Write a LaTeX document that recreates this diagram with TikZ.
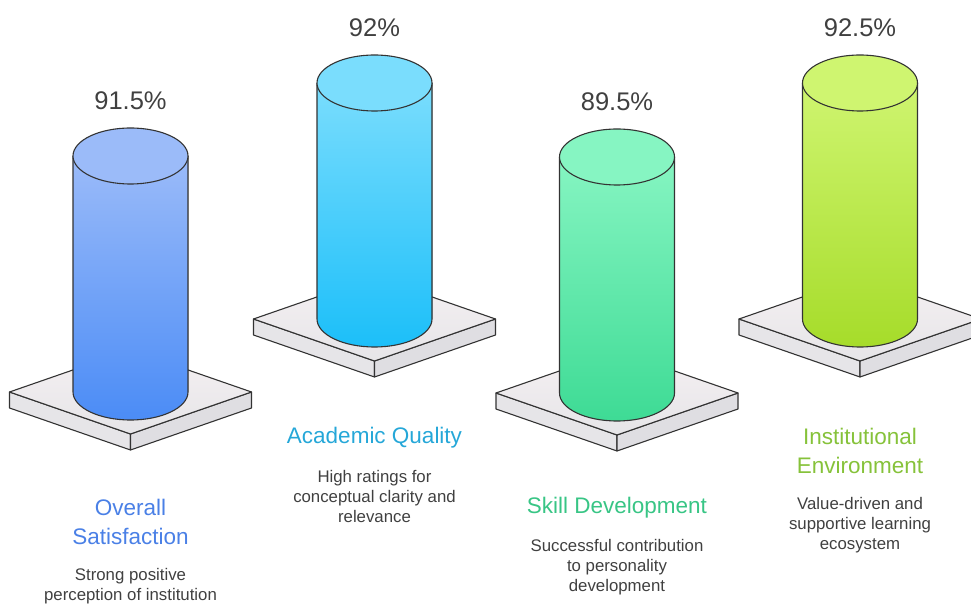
\documentclass[tikz,border=0pt]{standalone}
\usepackage{fontspec}
\setmainfont{Liberation Sans}

\definecolor{blueTop}{HTML}{9BBBF9}
\definecolor{blueBot}{HTML}{4B8CF6}
\definecolor{cyanTop}{HTML}{7ADDFD}
\definecolor{cyanBot}{HTML}{1CBFF9}
\definecolor{greenTop}{HTML}{86F5C2}
\definecolor{greenBot}{HTML}{3EDB95}
\definecolor{limeTop}{HTML}{CFF570}
\definecolor{limeBot}{HTML}{A6DC2A}
\definecolor{blueText}{HTML}{4A80E6}
\definecolor{cyanText}{HTML}{25A7D8}
\definecolor{greenText}{HTML}{38C585}
\definecolor{limeText}{HTML}{86C23A}
\definecolor{bodyText}{HTML}{404040}
\definecolor{outline}{HTML}{333333}
\definecolor{slabTop}{HTML}{F5F0F2}
\definecolor{slabShade}{HTML}{E6E5E8}
\definecolor{slabLeft}{HTML}{E6E5E8}
\definecolor{slabRight}{HTML}{DFDEE2}

\tikzset{
  rim/.style={draw=outline, line width=1.1pt, line join=round},
  pct/.style={text=bodyText, font=\fontsize{25.5}{30}\selectfont},
  headline/.style={align=center, font=\fontsize{22.5}{29}\selectfont},
  desc/.style={align=center, text=bodyText, font=\fontsize{16.8}{20}\selectfont}
}

\begin{document}
\begin{tikzpicture}[x=1pt, y=1pt]

    \useasboundingbox (0,0) rectangle (971,610);

    \foreach \cx/\yb/\ctop/\cbot/\val/\n in {130.5/218/blueTop/blueBot/91.5\%/a,
        374.5/291/cyanTop/cyanBot/92\%/b, 617/217/greenTop/greenBot/89.5\%/c,
        860/291/limeTop/limeBot/92.5\%/d}{
      % slab: two side faces, then the top face
      \draw[rim, fill=slabLeft] (\cx-121,\yb) -- (\cx,\yb-42) -- (\cx,\yb-58) -- (\cx-121,\yb-16) -- cycle;
      \draw[rim, fill=slabRight] (\cx,\yb-42) -- (\cx+121,\yb) -- (\cx+121,\yb-16) -- (\cx,\yb-58) -- cycle;
      \draw[rim, top color=slabTop, bottom color=slabShade] (\cx-121,\yb) -- (\cx,\yb+42) -- (\cx+121,\yb) -- (\cx,\yb-42) -- cycle;
      % cylinder body and its top
      \fill[top color=\ctop, bottom color=\cbot] (\cx-57.5,\yb+236) -- (\cx-57.5,\yb)
        arc[start angle=180, end angle=360, x radius=57.5, y radius=28] -- (\cx+57.5,\yb+236) -- cycle;
      \draw[rim] (\cx-57.5,\yb+236) -- (\cx-57.5,\yb)
        arc[start angle=180, end angle=360, x radius=57.5, y radius=28] -- (\cx+57.5,\yb+236);
      \draw[rim, fill=\ctop] (\cx,\yb+236) ellipse[x radius=57.5, y radius=28];
      \node[pct] (p\n) at (\cx,\yb+291) {\val};
    }

    \node[headline, text=blueText] (ha) at (130.5,88) {Overall\\Satisfaction};
    \node[desc] (ta) at (130.5,23.5) {Strong positive\\perception of institution};

    \node[headline, text=cyanText] (hb) at (374.5,172) {Academic Quality};
    \node[desc] (tb) at (374.5,114) {High ratings for\\conceptual clarity and\\relevance};

    \node[headline, text=greenText] (hc) at (617,102) {Skill Development};
    \node[desc] (tc) at (617,43) {Successful contribution\\to personality\\development};

    \node[headline, text=limeText] (hd) at (860,159) {Institutional\\Environment};
    \node[desc] (td) at (860,85) {Value-driven and\\supportive learning\\ecosystem};

\end{tikzpicture}
\end{document}
